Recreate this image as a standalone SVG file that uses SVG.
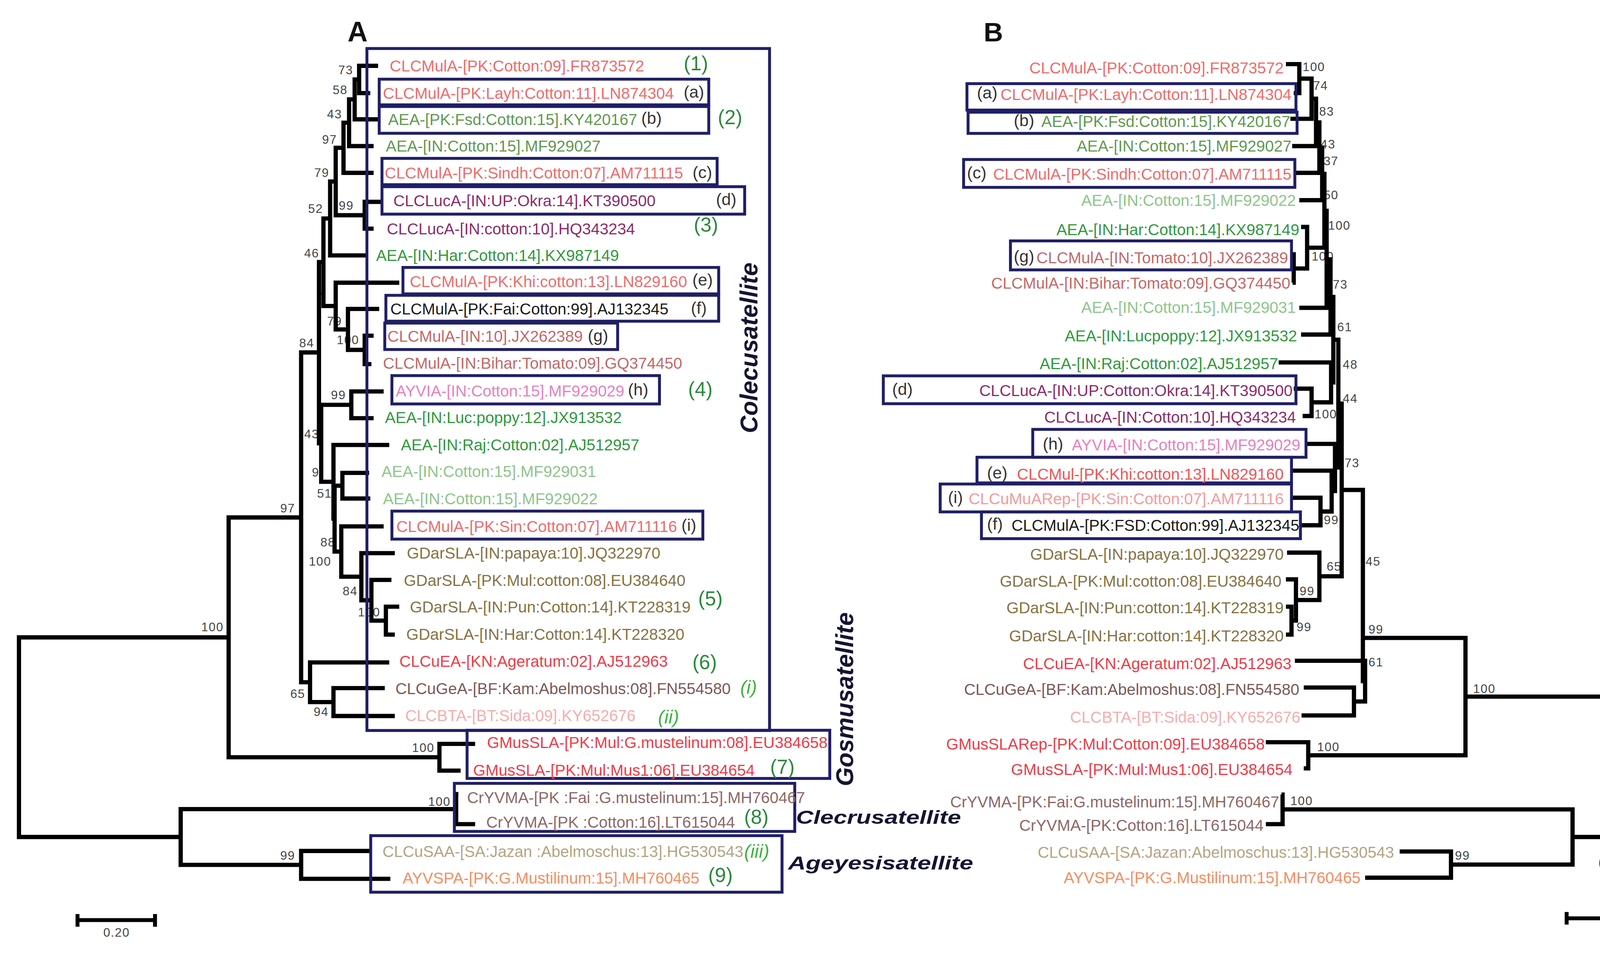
<svg xmlns="http://www.w3.org/2000/svg" width="4454" height="2450" viewBox="0 0 4454 2450">
<style>
.t{font-family:"Liberation Sans",Arial,sans-serif;font-size:14.2px}
.tb{font-family:"Liberation Sans",Arial,sans-serif;font-size:14.2px;text-anchor:end}
.s{font-family:"Liberation Sans",Arial,sans-serif;font-size:11px;fill:#444;letter-spacing:0.6px}
.sm{font-family:"Liberation Sans",Arial,sans-serif;font-size:11px;fill:#444;letter-spacing:0.6px;text-anchor:middle}
.br{fill:none;stroke:#000;stroke-width:3.8;stroke-linejoin:miter;stroke-linecap:butt}
.bx{fill:none;stroke:#1f1f66;stroke-width:2.6}
.lt{font-family:"Liberation Sans",Arial,sans-serif;font-size:15px;fill:#333}
.num{font-family:"Liberation Sans",Arial,sans-serif;font-size:18px;fill:#2a8a3a}
.rom{font-family:"Liberation Sans",Arial,sans-serif;font-size:17px;font-style:italic;fill:#3cb43c}
.sat{font-family:"Liberation Sans",Arial,sans-serif;font-weight:bold;font-style:italic;fill:#141432}
.ttl{font-family:"Liberation Sans",Arial,sans-serif;font-weight:bold;fill:#111}
.salmon{fill:#ef6b6b}.rose{fill:#c46868}.olg{fill:#5f9a4f}.grn{fill:#2f9a3c}.lgr{fill:#8dc58a}
.pur{fill:#8b2c6c}.pink{fill:#e87fc2}.blk{fill:#1a1a1a}.oli{fill:#857343}.red2{fill:#ef3b47}
.brn{fill:#7c5858}.lpk{fill:#f6adad}.mauve{fill:#8c6868}.tan{fill:#b3a583}.org{fill:#f68d62}
.lsal{fill:#f59b9b}.red3{fill:#ef5555}
</style>
<rect width="4454" height="2450" fill="#fff"/>
<g transform="scale(2.85513)">
<text class="ttl" x="311.6" y="37" font-size="25">A</text>
<text class="ttl" x="882" y="37" font-size="24">B</text>

<g id="support-A">
<text class="sm" x="310" y="66.5">73</text>
<text class="sm" x="305" y="84.5">58</text>
<text class="sm" x="300" y="106">43</text>
<text class="sm" x="295.5" y="129">97</text>
<text class="sm" x="288.5" y="158.5">79</text>
<text class="sm" x="310.5" y="188">99</text>
<text class="sm" x="283" y="191">52</text>
<text class="sm" x="279.5" y="230.7">46</text>
<text class="sm" x="287" y="269.6">7</text>
<text class="sm" x="300" y="291.6">79</text>
<text class="sm" x="312" y="308.7">100</text>
<text class="sm" x="275" y="311.5">84</text>
<text class="sm" x="303.5" y="358">99</text>
<text class="sm" x="279.5" y="393">43</text>
<text class="sm" x="283" y="427.3">9</text>
<text class="sm" x="291" y="446.3">51</text>
<text class="sm" x="258" y="459.6">97</text>
<text class="sm" x="294" y="490">88</text>
<text class="sm" x="287" y="507">100</text>
<text class="sm" x="314" y="533.7">84</text>
<text class="sm" x="331" y="552.7">100</text>
<text class="sm" x="190.5" y="566">100</text>
<text class="sm" x="267" y="626">65</text>
<text class="sm" x="288" y="642">94</text>
<text class="sm" x="379.5" y="674.3">100</text>
<text class="sm" x="394" y="722.7">100</text>
<text class="sm" x="258" y="771">99</text>
<text class="sm" x="104.5" y="840">0.20</text>
</g>

<g id="support-B">
<text class="s" x="1168" y="63.6">100</text>
<text class="s" x="1177.4" y="80.7">74</text>
<text class="s" x="1182.8" y="103.5">83</text>
<text class="s" x="1184" y="133">43</text>
<text class="s" x="1186.8" y="148">37</text>
<text class="s" x="1186.8" y="178.5">50</text>
<text class="s" x="1190.8" y="206">100</text>
<text class="s" x="1176" y="233.5">100</text>
<text class="s" x="1195" y="259">73</text>
<text class="s" x="1199" y="297">61</text>
<text class="s" x="1204" y="330.5">48</text>
<text class="s" x="1204" y="361">44</text>
<text class="s" x="1178.7" y="375">100</text>
<text class="s" x="1205.6" y="418.8">73</text>
<text class="s" x="1187" y="470">99</text>
<text class="s" x="1224.5" y="507">45</text>
<text class="s" x="1189.5" y="511.8">65</text>
<text class="s" x="1165.3" y="533.7">99</text>
<text class="s" x="1162.6" y="566">99</text>
<text class="s" x="1227" y="568">99</text>
<text class="s" x="1227" y="597.4">61</text>
<text class="s" x="1320.8" y="621.2">100</text>
<text class="s" x="1181" y="673.4">100</text>
<text class="s" x="1157" y="722">100</text>
<text class="s" x="1304.6" y="771">99</text>
<text class="s" x="1438" y="835.7">0.20</text>
</g>

<g id="connectors">
<g id="tree-A" class="br">
<path d="M339,59 H322 V83.5 H332"/>
<path d="M322,71.25 H318 V107 H339"/>
<path d="M318,89.1 H313 V131 H335"/>
<path d="M313,110 H308 V155 H335"/>
<path d="M342,181 H327 V205 H335"/>
<path d="M308,132.5 H301 V193 H327"/>
<path d="M301,162.75 H296 V229 H328"/>
<path d="M335,301 H327 V326.5 H333"/>
<path d="M340,277 H312 V313.75 H327"/>
<path d="M358,253.5 H301 V295.4 H312"/>
<path d="M296,195.9 H290 V274.4 H301"/>
<path d="M344,351 H315 V375 H335"/>
<path d="M331,424 H307 V447 H332"/>
<path d="M358,544 H346 V569 H354"/>
<path d="M351,520 H333 V556.5 H346"/>
<path d="M354,496 H324 V538.25 H333"/>
<path d="M344,472 H306 V517.1 H324"/>
<path d="M307,435.5 H300 V494.6 H306"/>
<path d="M349,399 H299 V465 H300"/>
<path d="M315,363 H288 V432 H299"/>
<path d="M290,235 H286 V397.5 H288"/>
<path d="M345,617 H299 V642 H354"/>
<path d="M349,594 H278 V629.5 H299"/>
<path d="M286,316 H270 V611.75 H278"/>
<path d="M426,667 H394 V691 H413"/>
<path d="M270,464 H205 V679 H394"/>
<path d="M411,712 H409 V739 H426"/>
<path d="M332,763 H270 V788 H350"/>
<path d="M409,725.5 H162 V775.5 H270"/>
<path d="M205,571.5 H17 V750.5 H162"/>
<path d="M69.5,825 H139 M69.5,819.6 V831 M139,819.6 V831" stroke-width="3.5"/>
</g>
<g id="tree-B" class="br">
<path d="M1153,57.5 H1165 V83.5 H1160"/>
<path d="M1165,70.5 H1176 V106.5 H1157"/>
<path d="M1176,88.5 H1180 V131 H1158.6"/>
<path d="M1180,109.75 H1183 V155 H1160"/>
<path d="M1183,132.4 H1185.5 V179.5 H1165"/>
<path d="M1157,228 H1160 V253.5 H1159"/>
<path d="M1166.6,203.5 H1172 V240.75 H1160"/>
<path d="M1185.5,155.9 H1187.5 V222.1 H1172"/>
<path d="M1187.5,189 H1189.5 V276 H1165"/>
<path d="M1189.5,232.5 H1193 V300 H1166.6"/>
<path d="M1160,348.5 H1176 V373 H1168"/>
<path d="M1146.5,325 H1193.5 V360.75 H1176"/>
<path d="M1193,266.25 H1195.5 V342.9 H1193.5"/>
<path d="M1158.6,446.3 H1184 V471 H1165"/>
<path d="M1158.6,422 H1194 V458.65 H1184"/>
<path d="M1170.7,398 H1197 V440.3 H1194"/>
<path d="M1195.5,304.6 H1200 V419.2 H1197"/>
<path d="M1153,544 H1158 V569 H1153"/>
<path d="M1153,519.5 H1162 V556.5 H1158"/>
<path d="M1154,495.5 H1183 V538 H1162"/>
<path d="M1200,361.9 H1203 V516.75 H1183"/>
<path d="M1169,616.5 H1214 V641.5 H1167"/>
<path d="M1161,592.5 H1224 V629 H1214"/>
<path d="M1203,439.3 H1222 V610.75 H1224"/>
<path d="M1135,665.5 H1173 V689 H1169"/>
<path d="M1222,572 H1314 V677.25 H1173"/>
<path d="M1149,712.5 H1150 V739 H1135"/>
<path d="M1255,763.5 H1301 V787 H1224"/>
<path d="M1150,725.75 H1410 V775.25 H1301"/>
<path d="M1314,624.6 H1542 V750.5 H1410"/>
<path d="M1404.7,823.4 H1492.1 M1404.7,817.7 V829 M1492.1,817.7 V829" stroke-width="3.5"/>
</g>
</g>

<g id="A-colecusatellite">
<rect class="bx" x="329" y="43.5" width="361" height="611.5"/>
<text class="sat" font-size="22" textLength="153" lengthAdjust="spacingAndGlyphs" transform="translate(679,388.4) rotate(-90)">Colecusatellite</text>
</g>
<g id="A-gosmusatellite-label"><text class="sat" font-size="22" textLength="156" lengthAdjust="spacingAndGlyphs" transform="translate(765,705) rotate(-90)">Gosmusatellite</text></g>

<g id="A-t1"><text class="t salmon" x="349.5" y="64">CLCMulA-[PK:Cotton:09].FR873572</text><text class="num" x="613" y="63">(1)</text></g>
<g id="A-t2"><rect class="bx" x="340" y="71" width="295.5" height="23"/><text class="t salmon" x="343.3" y="88.5">CLCMulA-[PK:Layh:Cotton:11].LN874304</text><text class="lt" x="613" y="87.5">(a)</text></g>
<g id="A-t3"><rect class="bx" x="340" y="95.5" width="295.5" height="24"/><text class="t olg" x="348" y="112">AEA-[PK:Fsd:Cotton:15].KY420167</text><text class="lt" x="575" y="111">(b)</text><text class="num" x="643.6" y="111.3">(2)</text></g>
<g id="A-t4"><text class="t olg" x="346" y="136">AEA-[IN:Cotton:15].MF929027</text></g>
<g id="A-t5"><rect class="bx" x="342.5" y="142" width="300.5" height="23.6"/><text class="t salmon" x="345" y="160">CLCMulA-[PK:Sindh:Cotton:07].AM711115</text><text class="lt" x="621" y="159.7">(c)</text></g>
<g id="A-t6"><rect class="bx" x="342.5" y="167.4" width="325.2" height="24.6"/><text class="t pur" x="352.7" y="185">CLCLucA-[IN:UP:Okra:14].KT390500</text><text class="lt" x="642" y="183.8">(d)</text></g>
<g id="A-t7"><text class="t pur" x="346.8" y="210">CLCLucA-[IN:cotton:10].HQ343234</text><text class="num" x="622" y="207.7">(3)</text></g>
<g id="A-t8"><text class="t grn" x="337.2" y="234">AEA-[IN:Har:Cotton:14].KX987149</text></g>
<g id="A-t9"><rect class="bx" x="361.3" y="239.8" width="283.1" height="23.7"/><text class="t salmon" x="367.5" y="257.5">CLCMulA-[PK:Khi:cotton:13].LN829160</text><text class="lt" x="620.8" y="256.2">(e)</text></g>
<g id="A-t10"><rect class="bx" x="346" y="264.8" width="298.4" height="23.2"/><text class="t blk" x="350" y="282">CLCMulA-[PK:Fai:Cotton:99].AJ132345</text><text class="lt" x="619.5" y="281.2">(f)</text></g>
<g id="A-t11"><rect class="bx" x="345" y="289.7" width="208.8" height="23.7"/><text class="t rose" x="347.4" y="306.5">CLCMulA-[IN:10].JX262389</text><text class="lt" x="527" y="306">(g)</text></g>
<g id="A-t12"><text class="t rose" x="343.4" y="330.8">CLCMulA-[IN:Bihar:Tomato:09].GQ374450</text></g>
<g id="A-t13"><rect class="bx" x="351.4" y="336.8" width="239.9" height="25.4"/><text class="t pink" x="354.9" y="355.5">AYVIA-[IN:Cotton:15].MF929029</text><text class="lt" x="563" y="354.4">(h)</text><text class="num" x="617" y="355.2">(4)</text></g>
<g id="A-t14"><text class="t grn" x="345.2" y="379.2">AEA-[IN:Luc:poppy:12].JX913532</text></g>
<g id="A-t15"><text class="t grn" x="359.4" y="404">AEA-[IN:Raj:Cotton:02].AJ512957</text></g>
<g id="A-t16"><text class="t lgr" x="342" y="427.7">AEA-[IN:Cotton:15].MF929031</text></g>
<g id="A-t17"><text class="t lgr" x="343.4" y="452.3">AEA-[IN:Cotton:15].MF929022</text></g>
<g id="A-t18"><rect class="bx" x="351.4" y="458.3" width="278.8" height="25.1"/><text class="t salmon" x="355.4" y="477">CLCMulA-[PK:Sin:Cotton:07].AM711116</text><text class="lt" x="611" y="476">(i)</text></g>
<g id="A-t19"><text class="t oli" x="364.8" y="500.7">GDarSLA-[IN:papaya:10].JQ322970</text></g>
<g id="A-t20"><text class="t oli" x="362.1" y="525.4">GDarSLA-[PK:Mul:cotton:08].EU384640</text></g>
<g id="A-t21"><text class="t oli" x="367.5" y="549.1">GDarSLA-[IN:Pun:Cotton:14].KT228319</text><text class="num" x="626" y="543">(5)</text></g>
<g id="A-t22"><text class="t oli" x="364.3" y="573.8">GDarSLA-[IN:Har:Cotton:14].KT228320</text></g>
<g id="A-t23"><text class="t red2" x="358.1" y="597.7">CLCuEA-[KN:Ageratum:02].AJ512963</text><text class="num" x="620.8" y="600">(6)</text></g>
<g id="A-t24"><text class="t brn" x="354.5" y="622.4">CLCuGeA-[BF:Kam:Abelmoshus:08].FN554580</text><text class="rom" x="663.7" y="622">(i)</text></g>
<g id="A-t25"><text class="t lpk" x="363.4" y="646.7">CLCBTA-[BT:Sida:09].KY652676</text><text class="rom" x="590" y="648.5">(ii)</text></g>
<g id="A-gosmu">
<rect class="bx" x="418.8" y="654.8" width="325.2" height="43.2"/>
<text class="t red2" x="436.7" y="670.8">GMusSLA-[PK:Mul:G.mustelinum:08].EU384658</text>
<text class="t red2" x="424.2" y="695.5">GMusSLA-[PK:Mul:Mus1:06].EU384654</text>
<text class="num" x="690.5" y="694">(7)</text>
</g>
<g id="A-clecru">
<rect class="bx" x="407.4" y="702.4" width="305.2" height="43.1"/>
<text class="t mauve" x="418.8" y="720.1">CrYVMA-[PK :Fai :G.mustelinum:15].MH760467</text>
<text class="t mauve" x="436" y="742">CrYVMA-[PK :Cotton:16].LT615044</text>
<text class="num" x="667.2" y="738.5">(8)</text>
<text class="sat" x="713.7" y="738.5" font-size="17" textLength="148" lengthAdjust="spacingAndGlyphs">Clecrusatellite</text>
</g>
<g id="A-ageyesi">
<rect class="bx" x="332.4" y="749.3" width="368.8" height="50.7"/>
<text class="t tan" x="343" y="768.5">CLCuSAA-[SA:Jazan :Abelmoschus:13].HG530543</text>
<text class="rom" x="667.2" y="769">(iii)</text>
<text class="t org" x="361" y="792.3">AYVSPA-[PK:G.Mustilinum:15].MH760465</text>
<text class="num" x="635" y="791">(9)</text>
<text class="sat" x="706.6" y="779.5" font-size="17" textLength="166" lengthAdjust="spacingAndGlyphs">Ageyesisatellite</text>
</g>

<g id="B-t1"><text class="tb salmon" x="1151" y="66">CLCMulA-[PK:Cotton:09].FR873572</text></g>
<g id="B-t2"><rect class="bx" x="867" y="75" width="295" height="23.7"/><text class="lt" x="876" y="88.4">(a)</text><text class="tb salmon" x="1158" y="89.5">CLCMulA-[PK:Layh:Cotton:11].LN874304</text></g>
<g id="B-t3"><rect class="bx" x="868" y="100.6" width="295" height="19"/><text class="lt" x="909" y="113">(b)</text><text class="tb olg" x="1157" y="114">AEA-[PK:Fsd:Cotton:15].KY420167</text></g>
<g id="B-t4"><text class="tb olg" x="1158" y="136">AEA-[IN:Cotton:15].MF929027</text></g>
<g id="B-t5"><rect class="bx" x="864" y="143" width="297" height="25"/><text class="lt" x="867" y="160">(c)</text><text class="tb salmon" x="1158" y="161">CLCMulA-[PK:Sindh:Cotton:07].AM711115</text></g>
<g id="B-t6"><text class="tb lgr" x="1162" y="184.5">AEA-[IN:Cotton:15].MF929022</text></g>
<g id="B-t7"><text class="tb grn" x="1165" y="211">AEA-[IN:Har:Cotton:14].KX987149</text></g>
<g id="B-t8"><rect class="bx" x="906" y="216" width="252" height="26"/><text class="lt" x="909" y="235">(g)</text><text class="tb rose" x="1155" y="236">CLCMulA-[IN:Tomato:10].JX262389</text></g>
<g id="B-t9"><text class="tb rose" x="1157" y="259">CLCMulA-[IN:Bihar:Tomato:09].GQ374450</text></g>
<g id="B-t10"><text class="tb lgr" x="1162" y="280.5">AEA-[IN:Cotton:15].MF929031</text></g>
<g id="B-t11"><text class="tb grn" x="1163" y="306">AEA-[IN:Lucpoppy:12].JX913532</text></g>
<g id="B-t12"><text class="tb grn" x="1146" y="331">AEA-[IN:Raj:Cotton:02].AJ512957</text></g>
<g id="B-t13"><rect class="bx" x="792" y="337" width="370" height="25"/><text class="lt" x="800" y="354">(d)</text><text class="tb pur" x="1159" y="355">CLCLucA-[IN:UP:Cotton:Okra:14].KT390500</text></g>
<g id="B-t14"><text class="tb pur" x="1162" y="379">CLCLucA-[IN:Cotton:10].HQ343234</text></g>
<g id="B-t15"><rect class="bx" x="926" y="385" width="245" height="25"/><text class="lt" x="935" y="403">(h)</text><text class="tb pink" x="1166" y="404">AYVIA-[IN:Cotton:15].MF929029</text></g>
<g id="B-t16"><rect class="bx" x="876" y="410" width="282" height="23"/><text class="lt" x="885" y="429">(e)</text><text class="tb red3" x="1151" y="430">CLCMul-[PK:Khi:cotton:13].LN829160</text></g>
<g id="B-t17"><rect class="bx" x="843" y="434" width="315" height="25"/><text class="lt" x="850" y="451">(i)</text><text class="tb lsal" x="1151" y="452">CLCuMuARep-[PK:Sin:Cotton:07].AM711116</text></g>
<g id="B-t18"><rect class="bx" x="880" y="459" width="286" height="24"/><text class="lt" x="885" y="475">(f)</text><text class="tb blk" x="1165" y="476">CLCMulA-[PK:FSD:Cotton:99].AJ132345</text></g>
<g id="B-t19"><text class="tb oli" x="1151" y="502">GDarSLA-[IN:papaya:10].JQ322970</text></g>
<g id="B-t20"><text class="tb oli" x="1149" y="526">GDarSLA-[PK:Mul:cotton:08].EU384640</text></g>
<g id="B-t21"><text class="tb oli" x="1151" y="550">GDarSLA-[IN:Pun:cotton:14].KT228319</text></g>
<g id="B-t22"><text class="tb oli" x="1151" y="575">GDarSLA-[IN:Har:cotton:14].KT228320</text></g>
<g id="B-t23"><text class="tb red2" x="1158" y="600">CLCuEA-[KN:Ageratum:02].AJ512963</text></g>
<g id="B-t24"><text class="tb brn" x="1165" y="623">CLCuGeA-[BF:Kam:Abelmoshus:08].FN554580</text></g>
<g id="B-t25"><text class="tb lpk" x="1166" y="648">CLCBTA-[BT:Sida:09].KY652676</text></g>
<g id="B-t26"><text class="tb red2" x="1134" y="672">GMusSLARep-[PK:Mul:Cotton:09].EU384658</text></g>
<g id="B-t27"><text class="tb red2" x="1159" y="695">GMusSLA-[PK:Mul:Mus1:06].EU384654</text></g>
<g id="B-t28"><text class="tb mauve" x="1147" y="724">CrYVMA-[PK:Fai:G.mustelinum:15].MH760467</text></g>
<g id="B-t29"><text class="tb mauve" x="1133" y="745">CrYVMA-[PK:Cotton:16].LT615044</text></g>
<g id="B-t30"><text class="tb tan" x="1250" y="769">CLCuSAA-[SA:Jazan:Abelmoschus:13].HG530543</text></g>
<g id="B-t31"><text class="tb org" x="1220" y="792">AYVSPA-[PK:G.Mustilinum:15].MH760465</text></g>
<g id="B-c"><text class="lt" x="1433" y="778">(c)</text></g>
</g>
</svg>
